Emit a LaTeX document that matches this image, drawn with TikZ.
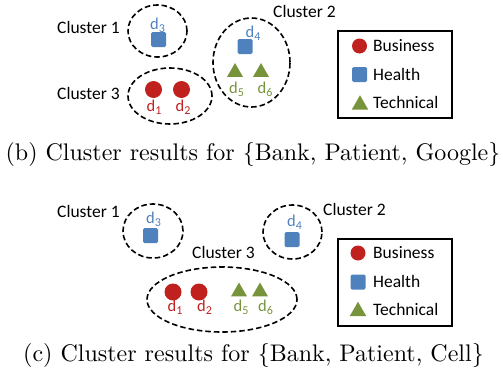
\documentclass[tikz,border=0pt]{standalone}
\usepackage{fontspec}
\setsansfont{Carlito}
\usetikzlibrary{shapes.geometric}
\definecolor{bizred}{RGB}{192,32,30}
\definecolor{hltblue}{RGB}{79,129,189}
\definecolor{tecgreen}{RGB}{119,147,60}
\newcommand\clfont{\sffamily\fontsize{17.5}{20}\selectfont}
\newcommand\docfont{\sffamily\fontsize{16.5}{18}\selectfont}
% document label d with a lowered index
\newcommand\dlab[1]{d\raisebox{-3pt}{\fontsize{12}{12}\selectfont #1}}
\tikzset{
  clus/.style={ellipse, draw=black, line width=1.6pt, dash pattern=on 5.5pt off 3pt, inner sep=0pt},
  clname/.style={font=\clfont, anchor=base west, inner sep=0pt},
  biz/.style={circle, fill=bizred, minimum size=17pt, inner sep=0pt},
  hlt/.style={rectangle, rounded corners=1.5pt, fill=hltblue, minimum size=15pt, inner sep=0pt},
  tec/.style={regular polygon, regular polygon sides=3, fill=tecgreen, minimum size=18.5pt, inner sep=0pt},
  doc/.style={font=\docfont, inner sep=0pt},
  legbox/.style={draw=black, line width=1.2pt, inner sep=0pt},
  legtext/.style={font=\clfont, anchor=base west, inner sep=0pt},
  caption/.style={anchor=base, inner sep=0pt, scale=2.4, font=\rmfamily\fontsize{10}{12}\selectfont}
}
\begin{document}
\begin{tikzpicture}[x=1pt,y=-1pt]
\useasboundingbox (0,0) rectangle (503,375);

% ---- panel (b) ----
\node[clus, minimum width=59pt, minimum height=52pt] (b1) at (157.5,31) {};
\node[clus, minimum width=84pt, minimum height=56pt] (b3) at (170,96) {};
\node[clus, minimum width=77pt, minimum height=89pt] (b2) at (251.5,62.5) {};
\node[clname] (b1n) at (57,33) {Cluster 1};
\node[clname] (b3n) at (57,99) {Cluster 3};
\node[clname] (b2n) at (273,17) {Cluster 2};

\node[doc, text=hltblue] (bd3) at (157.5,25) {\dlab{3}};
\node[hlt] (bs3) at (158.5,39.5) {};
\node[biz] (bc1) at (153.5,89.5) {};
\node[biz] (bc2) at (181.5,89.5) {};
\node[doc, text=bizred] (bd1) at (154,107) {\dlab{1}};
\node[doc, text=bizred] (bd2) at (183,107) {\dlab{2}};
\node[doc, text=hltblue] (bd4) at (253,33) {\dlab{4}};
\node[hlt] (bs4) at (245,46.5) {};
\node[tec] (bt5) at (235,72.3) {};
\node[tec] (bt6) at (261,72.3) {};
\node[doc, text=tecgreen] (bd5) at (236.5,89.5) {\dlab{5}};
\node[doc, text=tecgreen] (bd6) at (265,89.5) {\dlab{6}};

\node[legbox, minimum width=114pt, minimum height=87pt] (blg) at (395,74.5) {};
\node[biz, minimum size=15pt] (blc) at (359.5,46) {};
\node[hlt] (bls) at (359.5,74.5) {};
\node[tec, minimum size=19pt] (blt) at (360,104.8) {};
\node[legtext] (blb) at (373,51.6) {Business};
\node[legtext] (blh) at (373,80) {Health};
\node[legtext] (blte) at (373,108) {Technical};

\node[caption] (capb) at (253,160) {(b) Cluster results for $\{$Bank, Patient, Google$\}$};

% ---- panel (c) ----
\node[clus, minimum width=60pt, minimum height=54pt] (c1) at (153,231) {};
\node[clus, minimum width=150pt, minimum height=65pt] (c3) at (222,299.5) {};
\node[clus, minimum width=59pt, minimum height=54pt] (c2) at (292.5,232) {};
\node[clname] (c1n) at (57,217) {Cluster 1};
\node[clname] (c3n) at (192,258) {Cluster 3};
\node[clname] (c2n) at (323,215) {Cluster 2};

\node[doc, text=hltblue] (cd3) at (153.5,219) {\dlab{3}};
\node[hlt] (cs3) at (150.5,235.5) {};
\node[doc, text=hltblue] (cd4) at (294.5,222.5) {\dlab{4}};
\node[hlt] (cs4) at (292,239.5) {};
\node[biz] (cc1) at (173,292) {};
\node[biz] (cc2) at (199,292) {};
\node[tec] (ct5) at (239,291.8) {};
\node[tec] (ct6) at (260,291.8) {};
\node[doc, text=bizred] (cd1) at (175,307) {\dlab{1}};
\node[doc, text=bizred] (cd2) at (204.5,307) {\dlab{2}};
\node[doc, text=tecgreen] (cd5) at (241,307) {\dlab{5}};
\node[doc, text=tecgreen] (cd6) at (265.5,307) {\dlab{6}};

\node[legbox, minimum width=114pt, minimum height=87pt] (clg) at (395,282.5) {};
\node[biz, minimum size=15pt] (clc) at (358,253) {};
\node[hlt] (cls) at (358,282) {};
\node[tec, minimum size=19pt] (clt) at (358,311.3) {};
\node[legtext] (clb) at (373,258) {Business};
\node[legtext] (clh) at (373,287) {Health};
\node[legtext] (clte) at (373,315) {Technical};

\node[caption] (capc) at (253.5,361) {(c) Cluster results for $\{$Bank, Patient, Cell$\}$};
\end{tikzpicture}
\end{document}
